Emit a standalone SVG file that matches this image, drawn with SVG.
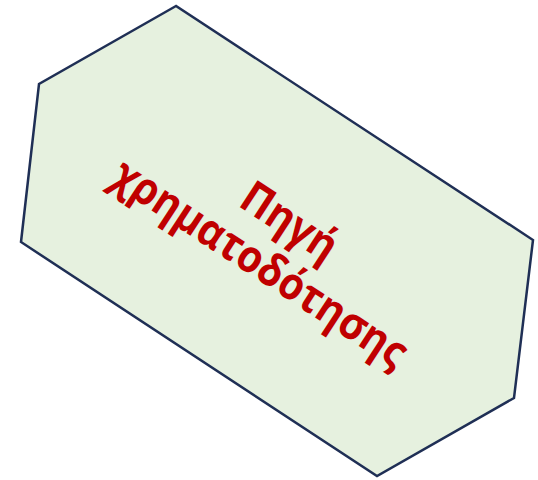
<svg xmlns="http://www.w3.org/2000/svg" width="538" height="480" viewBox="0 0 538 480">
<style>
.shape{fill:#E6F1DF;stroke:#1F2F55;stroke-width:2.5;stroke-linejoin:miter}
.lbl{font-family:"Open Sans","Liberation Sans",sans-serif;font-weight:700;font-size:45px;fill:#C00000;text-anchor:middle}
</style>
<g id="node-hexagon">
<polygon class="shape" points="176,6 39,84 21,242 377,476 514,398 533,240"/>
<g transform="translate(277,241) rotate(33.2)">
<text class="lbl" x="0" y="-8" textLength="106" lengthAdjust="spacingAndGlyphs">Πηγή</text>
<text class="lbl" x="-2" y="43" textLength="342" lengthAdjust="spacingAndGlyphs">χρηματοδότησης</text>
</g>
</g>
<g id="connectors"/>
</svg>
